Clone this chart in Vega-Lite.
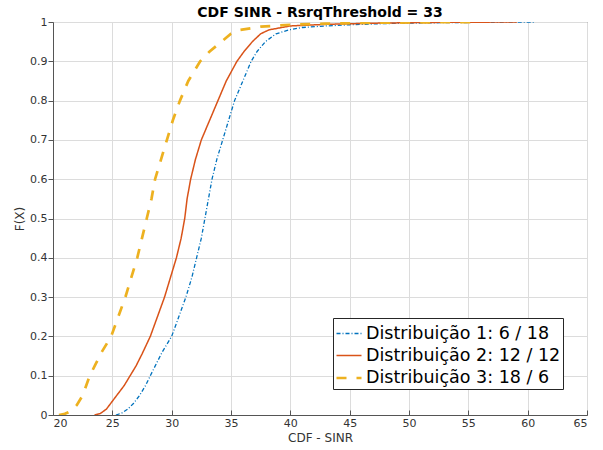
{
  "$schema": "https://vega.github.io/schema/vega-lite/v6.json",
  "width": 534,
  "height": 393,
  "autosize": {"type": "none"},
  "padding": {"left": 53, "top": 22, "right": 16, "bottom": 35},
  "background": "white",
  "title": {"text": "CDF SINR - RsrqThreshold = 33", "font": "DejaVu Sans", "fontSize": 14, "fontWeight": "bold", "color": "#000000", "offset": 0, "dy": 4},
  "config": {
    "view": {"stroke": "#555555", "strokeWidth": 1},
    "font": "DejaVu Sans"
  },
  "data": {"values": [
    {"serie": "Distribuição 1: 6 / 18", "x": 25.3, "F": 0},
    {"serie": "Distribuição 1: 6 / 18", "x": 25.8, "F": 0.005},
    {"serie": "Distribuição 1: 6 / 18", "x": 26.3, "F": 0.015},
    {"serie": "Distribuição 1: 6 / 18", "x": 26.8, "F": 0.03},
    {"serie": "Distribuição 1: 6 / 18", "x": 27.3, "F": 0.05},
    {"serie": "Distribuição 1: 6 / 18", "x": 27.8, "F": 0.075},
    {"serie": "Distribuição 1: 6 / 18", "x": 28.2, "F": 0.1},
    {"serie": "Distribuição 1: 6 / 18", "x": 28.7, "F": 0.13},
    {"serie": "Distribuição 1: 6 / 18", "x": 29.2, "F": 0.16},
    {"serie": "Distribuição 1: 6 / 18", "x": 29.6, "F": 0.18},
    {"serie": "Distribuição 1: 6 / 18", "x": 30.0, "F": 0.2},
    {"serie": "Distribuição 1: 6 / 18", "x": 30.6, "F": 0.25},
    {"serie": "Distribuição 1: 6 / 18", "x": 31.2, "F": 0.3},
    {"serie": "Distribuição 1: 6 / 18", "x": 31.7, "F": 0.35},
    {"serie": "Distribuição 1: 6 / 18", "x": 32.1, "F": 0.4},
    {"serie": "Distribuição 1: 6 / 18", "x": 32.5, "F": 0.45},
    {"serie": "Distribuição 1: 6 / 18", "x": 32.8, "F": 0.5},
    {"serie": "Distribuição 1: 6 / 18", "x": 33.1, "F": 0.55},
    {"serie": "Distribuição 1: 6 / 18", "x": 33.4, "F": 0.6},
    {"serie": "Distribuição 1: 6 / 18", "x": 33.8, "F": 0.65},
    {"serie": "Distribuição 1: 6 / 18", "x": 34.3, "F": 0.7},
    {"serie": "Distribuição 1: 6 / 18", "x": 34.8, "F": 0.75},
    {"serie": "Distribuição 1: 6 / 18", "x": 35.3, "F": 0.8},
    {"serie": "Distribuição 1: 6 / 18", "x": 36.0, "F": 0.85},
    {"serie": "Distribuição 1: 6 / 18", "x": 36.7, "F": 0.9},
    {"serie": "Distribuição 1: 6 / 18", "x": 37.2, "F": 0.925},
    {"serie": "Distribuição 1: 6 / 18", "x": 37.9, "F": 0.95},
    {"serie": "Distribuição 1: 6 / 18", "x": 38.8, "F": 0.97},
    {"serie": "Distribuição 1: 6 / 18", "x": 39.9, "F": 0.98},
    {"serie": "Distribuição 1: 6 / 18", "x": 41.0, "F": 0.986},
    {"serie": "Distribuição 1: 6 / 18", "x": 43.0, "F": 0.99},
    {"serie": "Distribuição 1: 6 / 18", "x": 45.0, "F": 0.993},
    {"serie": "Distribuição 1: 6 / 18", "x": 48.0, "F": 0.996},
    {"serie": "Distribuição 1: 6 / 18", "x": 52.0, "F": 0.998},
    {"serie": "Distribuição 1: 6 / 18", "x": 56.0, "F": 0.999},
    {"serie": "Distribuição 1: 6 / 18", "x": 60.6, "F": 1},
    {"serie": "Distribuição 2: 12 / 12", "x": 23.5, "F": 0},
    {"serie": "Distribuição 2: 12 / 12", "x": 24.0, "F": 0.004},
    {"serie": "Distribuição 2: 12 / 12", "x": 24.5, "F": 0.015},
    {"serie": "Distribuição 2: 12 / 12", "x": 25.0, "F": 0.035},
    {"serie": "Distribuição 2: 12 / 12", "x": 25.5, "F": 0.055},
    {"serie": "Distribuição 2: 12 / 12", "x": 26.0, "F": 0.075},
    {"serie": "Distribuição 2: 12 / 12", "x": 26.5, "F": 0.1},
    {"serie": "Distribuição 2: 12 / 12", "x": 27.0, "F": 0.125},
    {"serie": "Distribuição 2: 12 / 12", "x": 27.5, "F": 0.155},
    {"serie": "Distribuição 2: 12 / 12", "x": 28.2, "F": 0.2},
    {"serie": "Distribuição 2: 12 / 12", "x": 28.8, "F": 0.25},
    {"serie": "Distribuição 2: 12 / 12", "x": 29.4, "F": 0.3},
    {"serie": "Distribuição 2: 12 / 12", "x": 29.9, "F": 0.35},
    {"serie": "Distribuição 2: 12 / 12", "x": 30.4, "F": 0.4},
    {"serie": "Distribuição 2: 12 / 12", "x": 30.8, "F": 0.45},
    {"serie": "Distribuição 2: 12 / 12", "x": 31.1, "F": 0.5},
    {"serie": "Distribuição 2: 12 / 12", "x": 31.3, "F": 0.55},
    {"serie": "Distribuição 2: 12 / 12", "x": 31.6, "F": 0.6},
    {"serie": "Distribuição 2: 12 / 12", "x": 32.0, "F": 0.65},
    {"serie": "Distribuição 2: 12 / 12", "x": 32.5, "F": 0.7},
    {"serie": "Distribuição 2: 12 / 12", "x": 33.2, "F": 0.75},
    {"serie": "Distribuição 2: 12 / 12", "x": 33.9, "F": 0.8},
    {"serie": "Distribuição 2: 12 / 12", "x": 34.6, "F": 0.85},
    {"serie": "Distribuição 2: 12 / 12", "x": 35.5, "F": 0.9},
    {"serie": "Distribuição 2: 12 / 12", "x": 36.1, "F": 0.925},
    {"serie": "Distribuição 2: 12 / 12", "x": 36.8, "F": 0.95},
    {"serie": "Distribuição 2: 12 / 12", "x": 37.5, "F": 0.97},
    {"serie": "Distribuição 2: 12 / 12", "x": 38.2, "F": 0.98},
    {"serie": "Distribuição 2: 12 / 12", "x": 40.0, "F": 0.99},
    {"serie": "Distribuição 2: 12 / 12", "x": 43.0, "F": 0.994},
    {"serie": "Distribuição 2: 12 / 12", "x": 47.0, "F": 0.997},
    {"serie": "Distribuição 2: 12 / 12", "x": 52.0, "F": 0.999},
    {"serie": "Distribuição 2: 12 / 12", "x": 59.1, "F": 1},
    {"serie": "Distribuição 3: 18 / 6", "x": 20.5, "F": 0},
    {"serie": "Distribuição 3: 18 / 6", "x": 21.0, "F": 0.003},
    {"serie": "Distribuição 3: 18 / 6", "x": 21.5, "F": 0.01},
    {"serie": "Distribuição 3: 18 / 6", "x": 22.0, "F": 0.025},
    {"serie": "Distribuição 3: 18 / 6", "x": 22.5, "F": 0.05},
    {"serie": "Distribuição 3: 18 / 6", "x": 23.1, "F": 0.1},
    {"serie": "Distribuição 3: 18 / 6", "x": 23.6, "F": 0.13},
    {"serie": "Distribuição 3: 18 / 6", "x": 24.1, "F": 0.16},
    {"serie": "Distribuição 3: 18 / 6", "x": 24.9, "F": 0.2},
    {"serie": "Distribuição 3: 18 / 6", "x": 25.5, "F": 0.25},
    {"serie": "Distribuição 3: 18 / 6", "x": 26.1, "F": 0.3},
    {"serie": "Distribuição 3: 18 / 6", "x": 26.6, "F": 0.35},
    {"serie": "Distribuição 3: 18 / 6", "x": 27.1, "F": 0.4},
    {"serie": "Distribuição 3: 18 / 6", "x": 27.5, "F": 0.45},
    {"serie": "Distribuição 3: 18 / 6", "x": 27.9, "F": 0.5},
    {"serie": "Distribuição 3: 18 / 6", "x": 28.3, "F": 0.55},
    {"serie": "Distribuição 3: 18 / 6", "x": 28.6, "F": 0.6},
    {"serie": "Distribuição 3: 18 / 6", "x": 29.1, "F": 0.65},
    {"serie": "Distribuição 3: 18 / 6", "x": 29.6, "F": 0.7},
    {"serie": "Distribuição 3: 18 / 6", "x": 30.1, "F": 0.75},
    {"serie": "Distribuição 3: 18 / 6", "x": 30.7, "F": 0.8},
    {"serie": "Distribuição 3: 18 / 6", "x": 31.4, "F": 0.85},
    {"serie": "Distribuição 3: 18 / 6", "x": 32.4, "F": 0.9},
    {"serie": "Distribuição 3: 18 / 6", "x": 33.2, "F": 0.925},
    {"serie": "Distribuição 3: 18 / 6", "x": 34.2, "F": 0.95},
    {"serie": "Distribuição 3: 18 / 6", "x": 35.0, "F": 0.97},
    {"serie": "Distribuição 3: 18 / 6", "x": 35.8, "F": 0.98},
    {"serie": "Distribuição 3: 18 / 6", "x": 37.5, "F": 0.988},
    {"serie": "Distribuição 3: 18 / 6", "x": 40.0, "F": 0.993},
    {"serie": "Distribuição 3: 18 / 6", "x": 43.0, "F": 0.996},
    {"serie": "Distribuição 3: 18 / 6", "x": 47.0, "F": 0.998},
    {"serie": "Distribuição 3: 18 / 6", "x": 51.0, "F": 0.999},
    {"serie": "Distribuição 3: 18 / 6", "x": 55.5, "F": 1}
  ]},
  "mark": {"type": "line", "clip": true},
  "encoding": {
    "x": {
      "field": "x", "type": "quantitative",
      "scale": {"domain": [20, 65], "nice": false, "zero": false},
      "axis": {
        "title": "CDF - SINR", "values": [20, 25, 30, 35, 40, 45, 50, 55, 60, 65],
        "grid": true, "gridColor": "#dcdcdc", "gridWidth": 1,
        "domainColor": "#555555", "tickColor": "#555555", "tickSize": -5,
        "labelPadding": 7, "labelFontSize": 11, "labelColor": "#333333", "labelFont": "DejaVu Sans",
        "titleFontSize": 12, "titleFont": "DejaVu Sans", "titleFontWeight": "normal", "titleColor": "#333333", "titlePadding": 4
      }
    },
    "y": {
      "field": "F", "type": "quantitative",
      "scale": {"domain": [0, 1], "nice": false},
      "axis": {
        "title": "F(X)", "values": [0, 0.1, 0.2, 0.3, 0.4, 0.5, 0.6, 0.7, 0.8, 0.9, 1],
        "labelExpr": "datum.value == 0 ? '0' : datum.value == 1 ? '1' : format(datum.value, '.1f')",
        "grid": true, "gridColor": "#dcdcdc", "gridWidth": 1,
        "domainColor": "#555555", "tickColor": "#555555", "tickSize": 5,
        "labelPadding": 1, "labelFontSize": 11, "labelColor": "#333333", "labelFont": "DejaVu Sans",
        "titleFontSize": 12, "titleFont": "DejaVu Sans", "titleFontWeight": "normal", "titleColor": "#333333", "titlePadding": 3
      }
    },
    "color": {
      "field": "serie", "type": "nominal",
      "scale": {"domain": ["Distribuição 1: 6 / 18", "Distribuição 2: 12 / 12", "Distribuição 3: 18 / 6"], "range": ["#0072BD", "#D95319", "#EDB120"]},
      "legend": {
        "title": null, "orient": "none", "legendX": 280, "legendY": 296,
        "symbolType": "stroke", "symbolSize": 625, "labelFontSize": 17.5, "labelFont": "DejaVu Sans", "labelColor": "#000000",
        "strokeColor": "#262626", "fillColor": "white", "padding": 2, "rowPadding": -4, "labelOffset": 3, "labelLimit": 400
      }
    },
    "strokeDash": {
      "field": "serie", "type": "nominal",
      "scale": {"domain": ["Distribuição 1: 6 / 18", "Distribuição 2: 12 / 12", "Distribuição 3: 18 / 6"], "range": [[4, 2, 1, 2], [1, 0], [10, 10]]},
      "legend": {
        "title": null, "orient": "none", "legendX": 280, "legendY": 296,
        "symbolType": "stroke", "symbolSize": 625, "labelFontSize": 17.5, "labelFont": "DejaVu Sans", "labelColor": "#000000",
        "strokeColor": "#262626", "fillColor": "white", "padding": 2, "rowPadding": -4, "labelOffset": 3, "labelLimit": 400
      }
    },
    "strokeWidth": {
      "field": "serie", "type": "nominal",
      "scale": {"type": "ordinal", "domain": ["Distribuição 1: 6 / 18", "Distribuição 2: 12 / 12", "Distribuição 3: 18 / 6"], "range": [1.3, 1.5, 2.7]},
      "legend": {
        "title": null, "orient": "none", "legendX": 280, "legendY": 296,
        "symbolType": "stroke", "symbolSize": 625, "labelFontSize": 17.5, "labelFont": "DejaVu Sans", "labelColor": "#000000",
        "strokeColor": "#262626", "fillColor": "white", "padding": 2, "rowPadding": -4, "labelOffset": 3, "labelLimit": 400
      }
    }
  }
}
